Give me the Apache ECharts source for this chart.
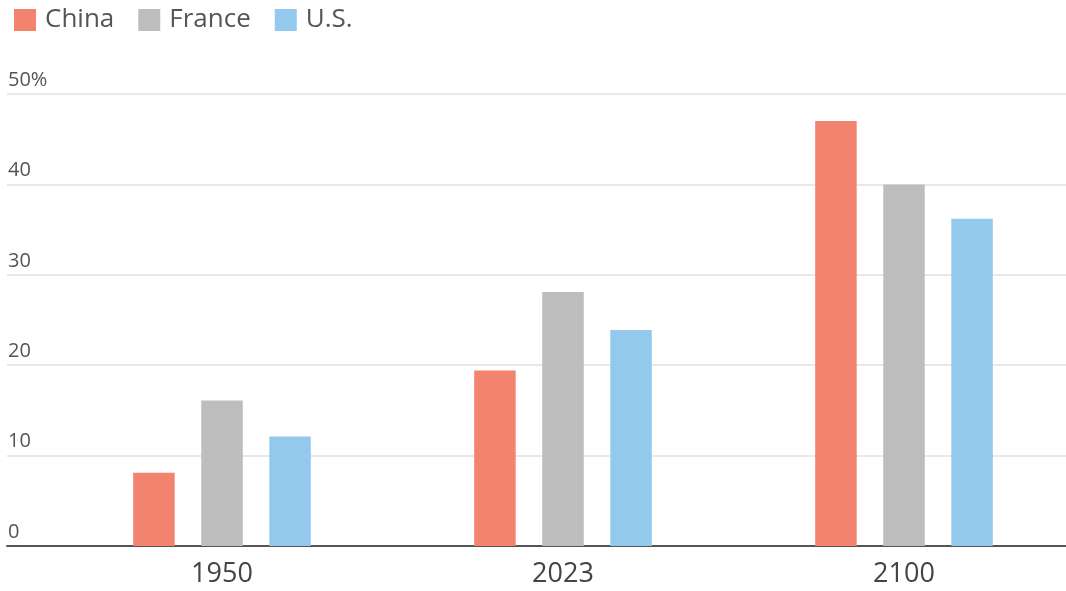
<!DOCTYPE html>
<html>
<head>
<meta charset="utf-8">
<script src="https://cdn.jsdelivr.net/npm/echarts@6/dist/echarts.min.js"></script>
<style>html,body{margin:0;padding:0;background:#fff;overflow:hidden}#c{width:1075px;height:591px}</style>
</head>
<body>
<div id="c"></div>
<script>
const years = ['1950', '2023', '2100'];
const china = [8.1, 19.4, 47.0];
const france = [16.1, 28.1, 40.0];
const us = [12.1, 23.9, 36.2];
const yTicks = {0: '0', 10: '10', 20: '20', 30: '30', 40: '40', 50: '50%'};

const FONT = 'Open Sans';
const chart = echarts.init(document.getElementById('c'));
chart.setOption({
  animation: false,
  textStyle: {fontFamily: FONT},
  legend: {
    left: 9, top: 2, itemWidth: 22, itemHeight: 22, itemGap: 24, icon: 'rect',
    textStyle: {fontSize: 26, color: '#555', fontFamily: FONT, padding: [0, 0, 0, 4]},
    data: ['China', 'France', 'U.S.']
  },
  grid: [
    {left: 7, right: 9, top: 94, bottom: 45, containLabel: false},
    {left: 51.5, right: 0.5, top: 94, bottom: 45, containLabel: false}
  ],
  xAxis: [
    {gridIndex: 0, type: 'category', data: years, axisLine: {lineStyle: {color: '#555', width: 2}},
     axisTick: {show: false}, axisLabel: {show: false}, splitLine: {show: false}},
    {gridIndex: 1, type: 'category', data: years, axisLine: {show: false}, axisTick: {show: false},
     axisLabel: {fontSize: 27, color: '#444', margin: 15, fontFamily: FONT}}
  ],
  yAxis: [
    {gridIndex: 0, type: 'value', min: 0, max: 50, interval: 10,
     axisLine: {show: false}, axisTick: {show: false},
     splitLine: {lineStyle: {color: '#e8e8e8', width: 2}},
     axisLabel: {inside: true, margin: 1, verticalAlign: 'bottom', fontSize: 20, color: '#555',
       fontFamily: FONT, padding: [0, 0, 4, 0], formatter: v => yTicks[v]}},
    {gridIndex: 1, type: 'value', min: 0, max: 50, interval: 10, show: false}
  ],
  series: [
    {name: 'China', type: 'bar', xAxisIndex: 1, yAxisIndex: 1, data: china, barWidth: 41.5, barGap: '64%', itemStyle: {color: '#f2836f'}},
    {name: 'France', type: 'bar', xAxisIndex: 1, yAxisIndex: 1, data: france, barWidth: 41.5, barGap: '64%', itemStyle: {color: '#bdbdbd'}},
    {name: 'U.S.', type: 'bar', xAxisIndex: 1, yAxisIndex: 1, data: us, barWidth: 41.5, barGap: '64%', itemStyle: {color: '#94c9ee'}}
  ]
});
</script>
</body>
</html>
